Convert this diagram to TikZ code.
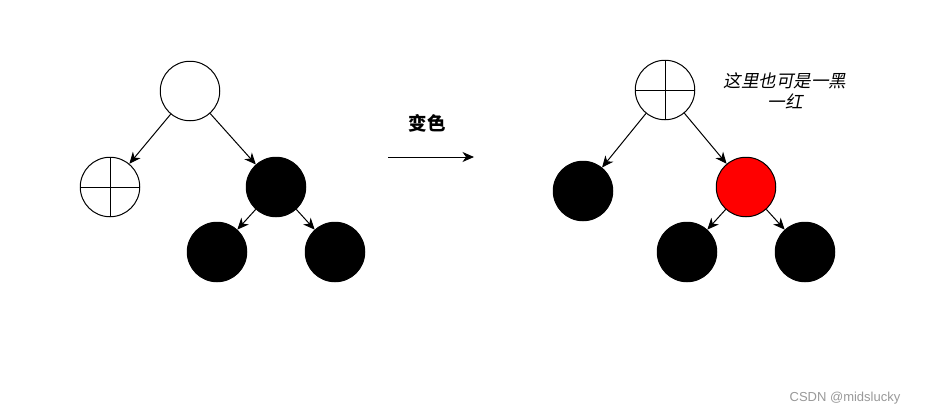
\documentclass[tikz,border=0pt]{standalone}
\usepackage{fontspec}
\setmainfont{Liberation Sans}
\newfontfamily\cjk{Noto Sans CJK SC}
\newfontfamily\cjkit[FakeSlant=0.2]{Noto Sans CJK SC}
\usetikzlibrary{arrows.meta}
\begin{document}
\begin{tikzpicture}[x=1pt,y=-1pt,
  rbnode/.style={circle,draw=black,line width=1pt,minimum size=59.5pt,inner sep=0pt},
  whitenode/.style={rbnode,fill=white},
  blacknode/.style={rbnode,fill=black},
  rednode/.style={rbnode,fill=red},
  crossnode/.style={rbnode,fill=white,
    append after command={
      \pgfextra{\let\tikzlastnode\tikzlastnode}
      (\tikzlastnode.north) edge[draw=black,line width=1pt] (\tikzlastnode.south)
      (\tikzlastnode.west) edge[draw=black,line width=1pt] (\tikzlastnode.east)}},
  treeedge/.style={draw=black,line width=1pt,-{Stealth[length=11.5pt,width=10pt,inset=3.5pt]}},
  label/.style={inner sep=0pt,font=\cjk\fontsize{17.5}{21}\selectfont}
]
\useasboundingbox (0,0) rectangle (926,415);
\fill[white] (0,0) rectangle (926,415);

% left tree
\node[whitenode] (la) at (190,91) {};
\node[crossnode] (lb) at (110,187) {};
\node[blacknode] (lc) at (276,187) {};
\node[blacknode] (ld) at (217,252) {};
\node[blacknode] (le) at (335,252) {};
\draw[treeedge] (la) -- (lb);
\draw[treeedge] (la) -- (lc);
\draw[treeedge] (lc) -- (ld);
\draw[treeedge] (lc) -- (le);

% transformation arrow
\node[label,font=\cjk\bfseries\fontsize{18.5}{21}\selectfont] (title) at (427,123) {变色};
\coordinate (as) at (388,157);
\coordinate (ae) at (474,157);
\draw[treeedge] (as) -- (ae);

% right tree
\node[crossnode] (ra) at (665,90) {};
\node[blacknode] (rb) at (583,191) {};
\node[rednode] (rc) at (746,187) {};
\node[blacknode] (rd) at (687,252) {};
\node[blacknode] (re) at (805,252) {};
\draw[treeedge] (ra) -- (rb);
\draw[treeedge] (ra) -- (rc);
\draw[treeedge] (rc) -- (rd);
\draw[treeedge] (rc) -- (re);

\node[label,font=\cjkit\fontsize{17.5}{21}\selectfont,align=center] (note) at (785,91) {这里也可是一黑\\一红};

\node[inner sep=0pt,text=black!40,font=\fontsize{13}{14}\selectfont] (wm) at (845,398) {CSDN @midslucky};
\end{tikzpicture}
\end{document}
